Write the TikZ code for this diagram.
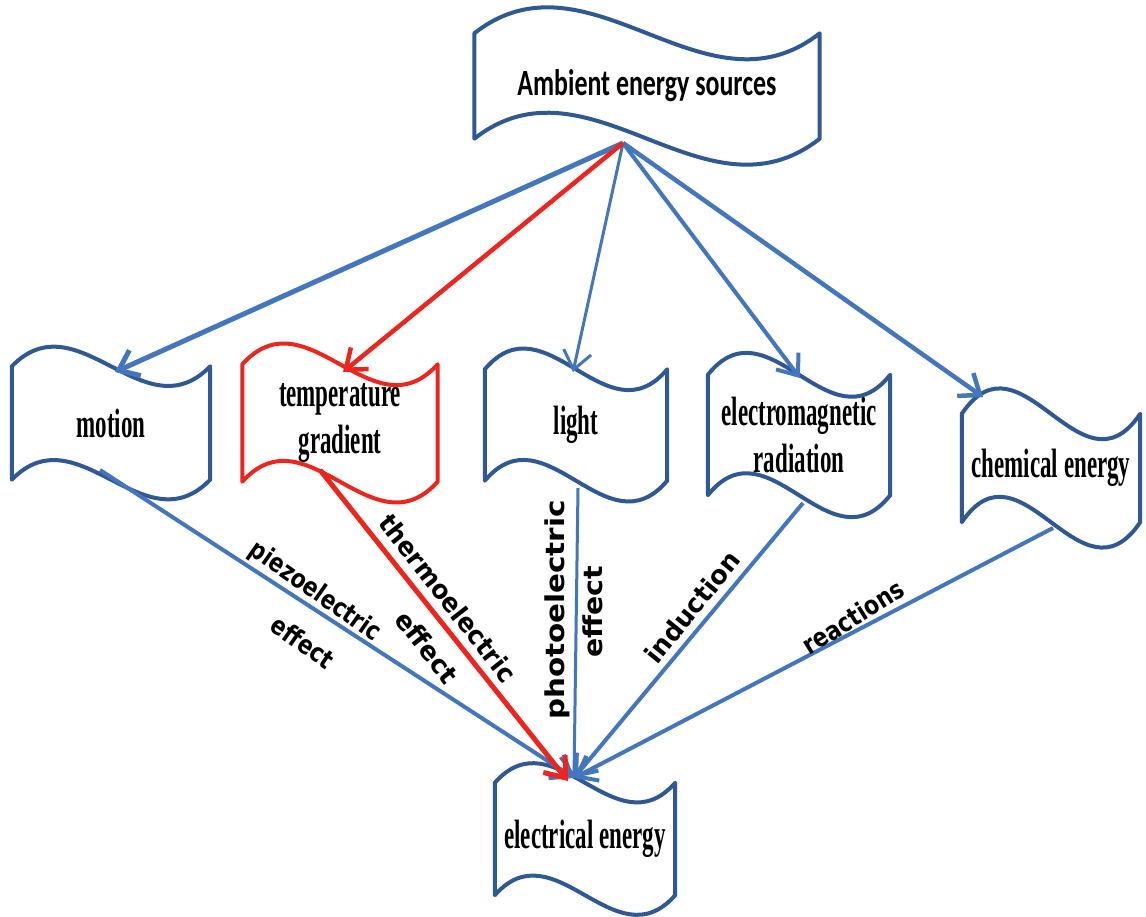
\documentclass[tikz,border=0pt]{standalone}
\usepackage{fontspec}
\usetikzlibrary{arrows.meta,calc}
\newfontfamily\topfont{Carlito}[FakeStretch=0.7]
\newfontfamily\boxfont{Liberation Serif}[FakeStretch=0.56]
\newfontfamily\lblfont{DejaVu Sans}
\definecolor{boxblue}{RGB}{47,88,148}
\definecolor{arrblue}{RGB}{68,118,190}
\definecolor{hotred}{RGB}{236,38,30}
\newcommand\waveoutline[4]{%
  \draw[#3, line width=#4, line join=round]
    (#1.north west) .. controls ($(#1.north west)!0.333!(#1.north east)+(0,-#2)$)
                           and ($(#1.north west)!0.667!(#1.north east)+(0,#2)$) .. (#1.north east)
    -- (#1.south east) .. controls ($(#1.south west)!0.667!(#1.south east)+(0,#2)$)
                           and ($(#1.south west)!0.333!(#1.south east)+(0,-#2)$) .. (#1.south west)
    -- cycle;}
\begin{document}
\begin{tikzpicture}[x=1pt,y=-1pt,
  boxtxt/.style={font=\boxfont\bfseries\fontsize{41}{47}\selectfont, align=center, inner sep=0pt, text=black},
  lbl/.style={font=\lblfont\bfseries\fontsize{26}{30}\selectfont, inner sep=0pt, text=black},
  conn/.style={arrblue, line width=#1, -{Straight Barb[length=18pt,width=28pt]}},
  hconn/.style={hotred, line width=#1, -{Straight Barb[length=18pt,width=28pt]}}]
\useasboundingbox (0,0) rectangle (1146,916);
\fill[white] (0,0) rectangle (1146,916);

% boxes
\node[boxtxt, minimum width=345pt, minimum height=105pt,
      font=\topfont\bfseries\fontsize{37}{42}\selectfont] (top) at (647,86) {Ambient energy sources};
\node[boxtxt, minimum width=198pt, minimum height=113pt] (motion) at (111,423) {motion};
\node[boxtxt, minimum width=195pt, minimum height=117pt] (temp) at (340,423) {temperature\\gradient};
\node[boxtxt, minimum width=182pt, minimum height=111pt] (light) at (576,425) {light};
\node[boxtxt, minimum width=182pt, minimum height=120pt] (em) at (799,435) {electromagnetic\\radiation};
\node[boxtxt, minimum width=178pt, minimum height=108pt] (chem) at (1051,468) {chemical energy};
\node[boxtxt, minimum width=180pt, minimum height=112pt] (elec) at (585,839) {electrical energy};

\waveoutline{top}{90}{boxblue}{4pt}
\waveoutline{motion}{68}{boxblue}{4pt}
\waveoutline{temp}{72}{hotred}{4pt}
\waveoutline{light}{72}{boxblue}{4pt}
\waveoutline{em}{76}{boxblue}{4pt}
\waveoutline{chem}{88}{boxblue}{4pt}
\waveoutline{elec}{68}{boxblue}{4pt}

% connection points
\coordinate (topOut) at (623,143);
\coordinate (mIn) at (115,372);
\coordinate (tIn) at (343,372);
\coordinate (lIn) at (573,372);
\coordinate (eIn) at (800,378);
\coordinate (cIn) at (983,397);
\coordinate (mOut) at (100,470);
\coordinate (tOut) at (320,470);
\coordinate (lOut) at (578,488);
\coordinate (eOut) at (803,503);
\coordinate (cOut) at (1053,528);
\coordinate (elIn) at (574,778);
\coordinate (elInR) at (568,781);

% top connectors
\draw[conn=5pt] (topOut) -- (mIn);
\draw[conn=3pt] (topOut) -- (lIn);
\draw[conn=4pt] (topOut) -- (eIn);
\draw[conn=4.5pt] (topOut) -- (cIn);
\draw[hconn=4.5pt] (topOut) -- (tIn);

% bottom connectors
\draw[conn=4pt] (mOut) -- (elIn);
\draw[conn=3pt] (lOut) -- (elIn);
\draw[conn=4pt] (eOut) -- (elIn);
\draw[conn=4pt] (cOut) -- (elIn);
\draw[hconn=5pt] (tOut) -- (elInR);

% connector labels
\node[lbl, rotate=-35] (piezoA) at (315,592) {\scalebox{0.82}[1]{piezoelectric}};
\node[lbl, rotate=-35] (piezoB) at (303,642) {\scalebox{0.83}[1]{effect}};
\node[lbl, rotate=-52] (thermoA) at (448,598) {\scalebox{0.95}[1]{thermoelectric}};
\node[lbl, rotate=-52] (thermoB) at (427,647) {\scalebox{0.99}[1]{effect}};
\node[lbl, rotate=90] (photoA) at (557,610) {\scalebox{1.13}[1]{photoelectric}};
\node[lbl, rotate=90] (photoB) at (593,612) {\scalebox{1.09}[1]{effect}};
\node[lbl, rotate=51] (induct) at (692,607) {\scalebox{0.98}[1]{induction}};
\node[lbl, rotate=32] (react) at (853,617) {\scalebox{0.84}[1]{reactions}};
\end{tikzpicture}
\end{document}
